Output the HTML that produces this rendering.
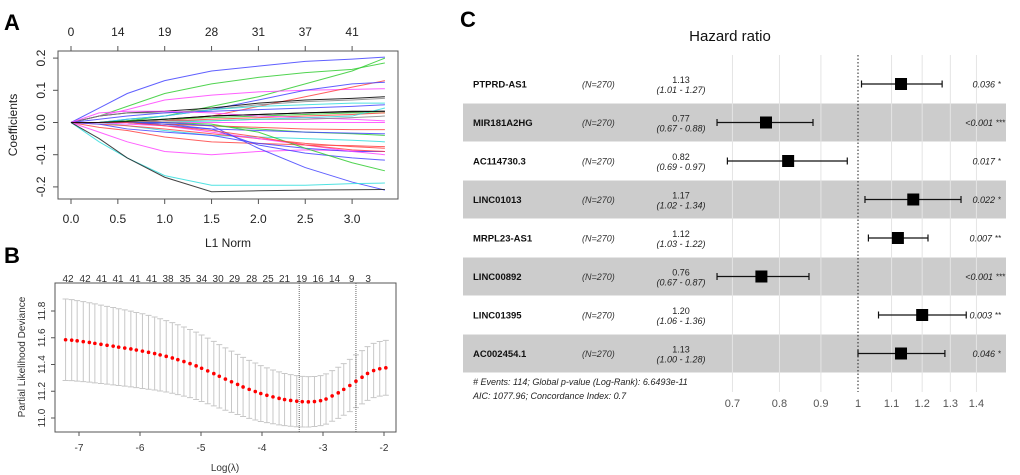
<!DOCTYPE html>
<html><head><meta charset="utf-8"><style>
html,body{margin:0;padding:0;background:#fff;}
svg{display:block;font-family:"Liberation Sans",sans-serif;}
</style></head><body>
<svg id="fig" width="1020" height="475" viewBox="0 0 1020 475">
<g id="pa"></g>
<g id="pb"></g>
<g id="pc"></g>
</svg>
<script>
// ---------- Panel A data ----------
const aKnotsX = [0,0.3,0.6,1.0,1.5,2.0,2.5,3.0,3.35];
const aXTicks = [0,0.5,1.0,1.5,2.0,2.5,3.0];
const aYTicks = [-0.2,-0.1,0.0,0.1,0.2];
const aTopLabels = ["0","14","19","28","31","37","41"];
const aColors = ["#4444ff","#33cc33","#33cc33","#ff44ff","#ff4444","#4444ff","#000000","#888888","#33dddd","#4444ff","#000000","#33cc33","#ff4444","#ff44ff","#888888","#33dddd","#ff44ff","#33cc33","#ff4444","#4444ff","#33dddd","#ff4444","#ff4444","#ff44ff","#4444ff","#ff44ff","#4444ff","#33cc33","#4444ff","#ff4444","#33dddd","#222222","#000000"];
const aCoefs = [
[0,.045,.09,.13,.16,.175,.19,.197,.203],
[0,.02,.05,.09,.12,.14,.155,.165,.185],
[0,0,.005,.02,.05,.08,.12,.16,.2],
[0,.02,.04,.07,.085,.095,.1,.103,.105],
[0,0,0,.005,.02,.05,.08,.11,.13],
[0,0,.01,.02,.04,.07,.1,.12,.125],
[0,.02,.03,.035,.045,.06,.07,.075,.08],
[0,.02,.03,.03,.04,.055,.065,.07,.075],
[0,0,.01,.02,.04,.05,.055,.06,.06],
[0,.01,.02,.03,.035,.04,.045,.05,.055],
[0,0,.005,.01,.02,.025,.03,.035,.035],
[0,0,.005,.01,.015,.02,.025,.03,.03],
[0,0,0,.005,.01,.015,.02,.025,.03],
[0,.03,.035,.035,.03,.02,.015,.01,.005],
[0,0,0,.005,.005,.01,.01,.015,.02],
[0,0,0,0,.005,.01,.015,.02,.045],
[0,0,0,0,0,0,0,0,0],
[0,0,0,-.005,-.01,-.02,-.03,-.035,-.04],
[0,0,0,-.005,-.01,-.015,-.02,-.022,-.022],
[0,0,0,-.01,-.02,-.025,-.03,-.033,-.035],
[0,0,-.01,-.025,-.04,-.045,-.05,-.055,-.06],
[0,-.015,-.025,-.045,-.06,-.065,-.07,-.072,-.075],
[0,-.005,-.01,-.02,-.035,-.05,-.065,-.075,-.08],
[0,-.03,-.06,-.09,-.1,-.09,-.085,-.088,-.09],
[0,-.005,-.02,-.03,-.04,-.065,-.08,-.09,-.09],
[0,0,-.005,-.01,-.03,-.05,-.07,-.09,-.1],
[0,0,0,-.005,-.02,-.07,-.095,-.11,-.117],
[0,0,0,0,-.005,-.03,-.08,-.125,-.15],
[0,0,0,0,-.01,-.08,-.14,-.185,-.21],
[0,0,0,-.01,-.025,-.045,-.07,-.085,-.09],
[0,-.06,-.11,-.165,-.195,-.195,-.195,-.19,-.188],
[0,-.05,-.11,-.17,-.215,-.212,-.21,-.209,-.208],
[0,0,.003,.01,.02,.025,.03,.033,.035]
];
// ---------- Panel B data ----------
const bLogLambda = [-7.22,-7.12,-7.03,-6.93,-6.83,-6.74,-6.64,-6.54,-6.44,-6.35,-6.25,-6.15,-6.06,-5.96,-5.86,-5.76,-5.67,-5.57,-5.47,-5.38,-5.28,-5.18,-5.08,-4.99,-4.89,-4.79,-4.70,-4.60,-4.50,-4.40,-4.31,-4.21,-4.11,-4.02,-3.92,-3.82,-3.72,-3.63,-3.53,-3.43,-3.34,-3.24,-3.14,-3.04,-2.95,-2.85,-2.75,-2.66,-2.56,-2.46,-2.36,-2.27,-2.17,-2.07,-1.97];
const bMean = [11.585,11.582,11.577,11.571,11.565,11.558,11.551,11.544,11.537,11.530,11.523,11.516,11.508,11.500,11.491,11.482,11.472,11.461,11.449,11.436,11.422,11.407,11.390,11.372,11.352,11.332,11.312,11.291,11.271,11.251,11.232,11.214,11.198,11.183,11.170,11.158,11.147,11.138,11.131,11.126,11.122,11.121,11.123,11.130,11.142,11.165,11.188,11.214,11.243,11.275,11.305,11.333,11.355,11.368,11.375];
const bSE = [0.305,0.303,0.301,0.299,0.297,0.295,0.293,0.291,0.289,0.287,0.285,0.283,0.281,0.279,0.276,0.273,0.270,0.267,0.264,0.261,0.258,0.255,0.252,0.249,0.245,0.241,0.237,0.233,0.229,0.225,0.221,0.217,0.213,0.209,0.205,0.201,0.198,0.195,0.193,0.191,0.189,0.188,0.187,0.187,0.188,0.189,0.191,0.193,0.195,0.197,0.199,0.201,0.203,0.204,0.205];
const bTopPos = [-7.18,-6.90,-6.63,-6.36,-6.08,-5.81,-5.54,-5.26,-4.99,-4.72,-4.45,-4.17,-3.90,-3.63,-3.35,-3.08,-2.81,-2.53,-2.26];
const bTopLabels = ["42","42","41","41","41","41","38","35","34","30","29","28","25","21","19","16","14","9","3"];
const bXTicks = [-7,-6,-5,-4,-3,-2];
const bYTicks = [11.0,11.2,11.4,11.6,11.8];
const bVLines = [-3.39,-2.46];
// ---------- Panel C data ----------
const cNames = ["PTPRD-AS1","MIR181A2HG","AC114730.3","LINC01013","MRPL23-AS1","LINC00892","LINC01395","AC002454.1"];
const cHR = [1.13,0.77,0.82,1.17,1.12,0.76,1.20,1.13];
const cLo = [1.01,0.67,0.69,1.02,1.03,0.67,1.06,1.00];
const cHi = [1.27,0.88,0.97,1.34,1.22,0.87,1.36,1.28];
const cP = ["0.036","<0.001","0.017","0.022","0.007","<0.001","0.003","0.046"];
const cStars = ["*","***","*","*","**","***","**","*"];
const cTicks = [0.7,0.8,0.9,1,1.1,1.2,1.3,1.4];

const NS="http://www.w3.org/2000/svg";
function mk(parent,tag,attrs,text){const e=document.createElementNS(NS,tag);for(const k in attrs)e.setAttribute(k,attrs[k]);if(text!==undefined)e.textContent=text;parent.appendChild(e);return e;}

// ===== Panel A =====
(function(){
const g=document.getElementById('pa');
const sx=v=>71+v*93.7, sy=v=>122.5-v*322;
let t=mk(g,'text',{x:4,y:30,'font-size':22,'font-weight':'bold'},'A');

aCoefs.forEach((c,i)=>{
  const p=mk(g,'polyline',{points:c.map((v,j)=>sx(aKnotsX[j])+','+sy(v)).join(' '),fill:'none',stroke:aColors[i],'stroke-width':1,'stroke-opacity':0.85});
  
});
let r=mk(g,'rect',{x:58,y:51,width:340,height:148,fill:'none',stroke:'#555','stroke-width':1});

aXTicks.forEach((v,i)=>{
  mk(g,'line',{x1:sx(v),x2:sx(v),y1:199,y2:204,stroke:'#555'});
  let l=mk(g,'text',{x:sx(v),y:223,'font-size':12,'text-anchor':'middle',fill:'#222'},v.toFixed(1));
  
  mk(g,'line',{x1:sx(v),x2:sx(v),y1:51,y2:46,stroke:'#555'});
  let u=mk(g,'text',{x:sx(v),y:36,'font-size':12,'text-anchor':'middle',fill:'#222'},aTopLabels[i]);
  
});
aYTicks.forEach(v=>{
  mk(g,'line',{x1:58,x2:53,y1:sy(v),y2:sy(v),stroke:'#555'});
  let l=mk(g,'text',{x:0,y:0,'font-size':12,'text-anchor':'middle',fill:'#222',transform:`translate(45,${sy(v)}) rotate(-90)`},v.toFixed(1));
  
});
let xt=mk(g,'text',{x:228,y:247,'font-size':12,'text-anchor':'middle',fill:'#222'},'L1 Norm');

let yt=mk(g,'text',{x:0,y:0,'font-size':12,'text-anchor':'middle',fill:'#222',transform:'translate(17,125) rotate(-90)'},'Coefficients');

})();

// ===== Panel B =====
(function(){
const g=document.getElementById('pb');
const sx=v=>79+(v+7)*61, sy=v=>311-(v-11.8)*133.75;
let t=mk(g,'text',{x:4,y:263,'font-size':22,'font-weight':'bold'},'B');

bLogLambda.forEach((x,i)=>{
  const up=sy(bMean[i]+bSE[i]), lo=sy(bMean[i]-bSE[i]), X=sx(x);
  let e=mk(g,'path',{d:`M${X},${up}V${lo}M${X-3},${up}H${X+3}M${X-3},${lo}H${X+3}`,stroke:'#c8c8c8','stroke-width':1,fill:'none'});
  
});
bVLines.forEach(v=>{
  let l=mk(g,'line',{x1:sx(v),x2:sx(v),y1:283,y2:432,stroke:'#666','stroke-dasharray':'1,1'});
  
});
bLogLambda.forEach((x,i)=>{
  let c=mk(g,'circle',{cx:sx(x),cy:sy(bMean[i]),r:1.8,fill:'#ff0000'});
  
});
let r=mk(g,'rect',{x:55,y:283,width:341,height:149,fill:'none',stroke:'#555'});

bXTicks.forEach(v=>{
  mk(g,'line',{x1:sx(v),x2:sx(v),y1:432,y2:436,stroke:'#555'});
  let l=mk(g,'text',{x:sx(v),y:451,'font-size':10,'text-anchor':'middle',fill:'#333'},String(v));
  
});
bTopPos.forEach((v,i)=>{
  let l=mk(g,'text',{x:sx(v),y:282,'font-size':10,'text-anchor':'middle',fill:'#333'},bTopLabels[i]);
  
});
bYTicks.forEach(v=>{
  mk(g,'line',{x1:55,x2:51,y1:sy(v),y2:sy(v),stroke:'#555'});
  let l=mk(g,'text',{x:0,y:0,'font-size':10,'text-anchor':'middle',fill:'#333',transform:`translate(45,${sy(v)}) rotate(-90)`},v.toFixed(1));
  
});
let xt=mk(g,'text',{x:225,y:471,'font-size':10,'text-anchor':'middle',fill:'#333'},'Log(λ)');

let yt=mk(g,'text',{x:0,y:0,'font-size':10,'text-anchor':'middle',fill:'#333',transform:'translate(25,357) rotate(-90)'},'Partial Likelihood Deviance');

})();

// ===== Panel C =====
(function(){
const g=document.getElementById('pc');
const sx=v=>858+Math.log(v)*352;
const rowY=i=>84+i*38.5;
let t=mk(g,'text',{x:460,y:27,'font-size':22,'font-weight':'bold'},'C');

let ti=mk(g,'text',{x:730,y:41,'font-size':15,'text-anchor':'middle',fill:'#111'},'Hazard ratio');

cNames.forEach((n,i)=>{
  if(i%2===1){let b=mk(g,'rect',{x:463,y:rowY(i)-19,width:543,height:38,fill:'#cccccc'});
  }
});
cTicks.forEach(v=>{ if(v!==1){
  let l=mk(g,'line',{x1:sx(v),x2:sx(v),y1:55,y2:392,stroke:'#e4e4e4','stroke-width':1});
  }
});
let ref=mk(g,'line',{x1:sx(1),x2:sx(1),y1:55,y2:392,stroke:'#222','stroke-dasharray':'1.5,2'});

cNames.forEach((n,i)=>{
  const y=rowY(i);
  let a=mk(g,'text',{x:473,y:y+3.5,'font-size':9.5,'font-weight':'bold',fill:'#111'},n);
  
  let b=mk(g,'text',{x:582,y:y+3.5,'font-size':9,'font-style':'italic',fill:'#333'},'(N=270)');
  
  let c=mk(g,'text',{x:681,y:y-1,'font-size':9,'text-anchor':'middle',fill:'#222'},cHR[i].toFixed(2));
  
  let d=mk(g,'text',{x:681,y:y+9,'font-size':9,'font-style':'italic','text-anchor':'middle',fill:'#222'},`(${cLo[i].toFixed(2)} - ${cHi[i].toFixed(2)})`);
  
  const x1=sx(cLo[i]),x2=sx(cHi[i]),xm=sx(cHR[i]);
  let ci=mk(g,'path',{d:`M${x1},${y}H${x2}M${x1},${y-3.5}V${y+3.5}M${x2},${y-3.5}V${y+3.5}`,stroke:'#111','stroke-width':1.2,fill:'none'});
  
  let s=mk(g,'rect',{x:xm-6,y:y-6,width:12,height:12,fill:'#000'});
  
  const ps=cStars[i].length===3?996:1001-cStars[i].length*3;
  let p=mk(g,'text',{x:ps-3,y:y+3.5,'font-size':9,'font-style':'italic','text-anchor':'end',fill:'#222'},cP[i]);
  
  let st=mk(g,'text',{x:ps,y:y+3,'font-size':8,fill:'#222'},cStars[i]);
  
});
cTicks.forEach(v=>{
  let l=mk(g,'text',{x:sx(v),y:407,'font-size':11,'text-anchor':'middle',fill:'#555'},String(v));
  
});
let f1=mk(g,'text',{x:473,y:385,'font-size':9,'font-style':'italic',fill:'#222'},'# Events: 114; Global p-value (Log-Rank): 6.6493e-11');

let f2=mk(g,'text',{x:473,y:399,'font-size':9,'font-style':'italic',fill:'#222'},'AIC: 1077.96; Concordance Index: 0.7');

})();
</script>
</body></html>
